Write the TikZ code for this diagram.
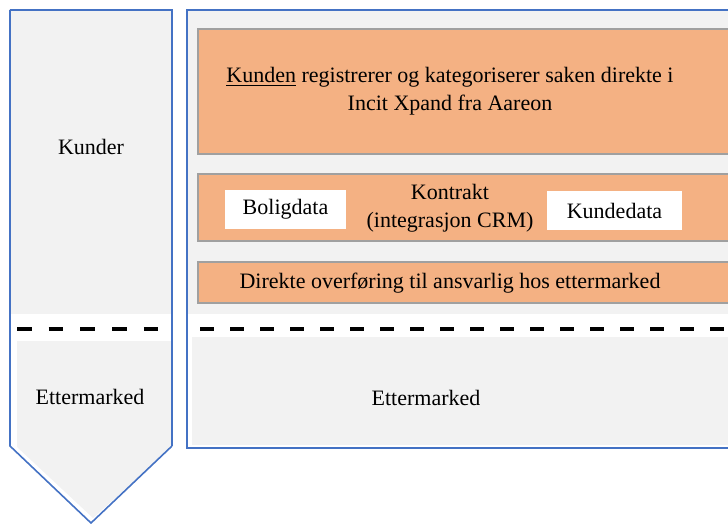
\documentclass[tikz,border=0pt]{standalone}
\usepackage{fontspec}
\setmainfont{Liberation Serif}
\usetikzlibrary{calc}

\definecolor{panelblue}{HTML}{4472C4}
\definecolor{panelgray}{HTML}{F2F2F2}
\definecolor{boxorange}{HTML}{F4B183}
\definecolor{boxedge}{HTML}{A0A0A0}

\begin{document}
\begin{tikzpicture}[x=0.5pt,y=-0.5pt,
  frame/.style={draw=panelblue,line width=0.8pt},
  stepline/.style={line width=2pt,dash pattern=on 7pt off 8pt},
  orangebox/.style={draw=boxedge,fill=boxorange,line width=0.6pt},
  databox/.style={fill=white,inner sep=0pt,minimum height=19.5pt},
  lbl/.style={font=\rmfamily\fontsize{11}{14}\selectfont,align=center}]

\clip (0,0) rectangle (728,524);

% left arrow
\coordinate (A) at (10,10);
\coordinate (B) at (172,10);
\coordinate (C) at (172,446);
\coordinate (D) at (91,523);
\coordinate (E) at (10,446);

\fill[panelgray] (11,11) rectangle (171,314);
\fill[panelgray] (17,341) -- (172,341) -- (172,447) -- (93,518) -- (17,447) -- cycle;
\draw[frame] (A) -- (B) -- (172,341);
\draw[frame] (B) -- (C);
\draw[frame] (A) -- (E) -- (D) -- (C);
\draw[stepline,dash pattern=on 7.25pt off 8.6pt] (17,329) -- (160,329);

% right panel
\fill[panelgray] (188,11) rectangle (740,314);
\fill[panelgray] (192,337) rectangle (740,445);
\draw[frame] (740,10) -- (187,10) -- (187,448) -- (740,448);
\draw[stepline] (200,329) -- (740,329);

\draw[orangebox] (198,29) rectangle (740,154);
\draw[orangebox] (198,174) rectangle (740,241);
\draw[orangebox] (198,262) rectangle (740,303);

\node[databox,minimum width=60.5pt] (bolig) at (285.5,209.5) {};
\node[databox,minimum width=67.5pt] (kunde) at (614.5,210.5) {};

\node[lbl] (kunder) at (91,147) {Kunder};
\node[lbl] (etterL) at (90,397) {Ettermarked};
\node[lbl] (etterR) at (426,398) {Ettermarked};
\node[lbl] (sak) at (450,91) {\underline{Kunden} registrerer og kategoriserer saken direkte i\\Incit Xpand fra Aareon};
\node[lbl] (kontrakt) at (450,208) {Kontrakt\\(integrasjon CRM)};
\node[lbl] at (bolig) {Boligdata};
\node[lbl] at (kunde) {Kundedata};
\node[lbl] (overf) at (450,283) {Direkte overføring til ansvarlig hos ettermarked};

\end{tikzpicture}
\end{document}
